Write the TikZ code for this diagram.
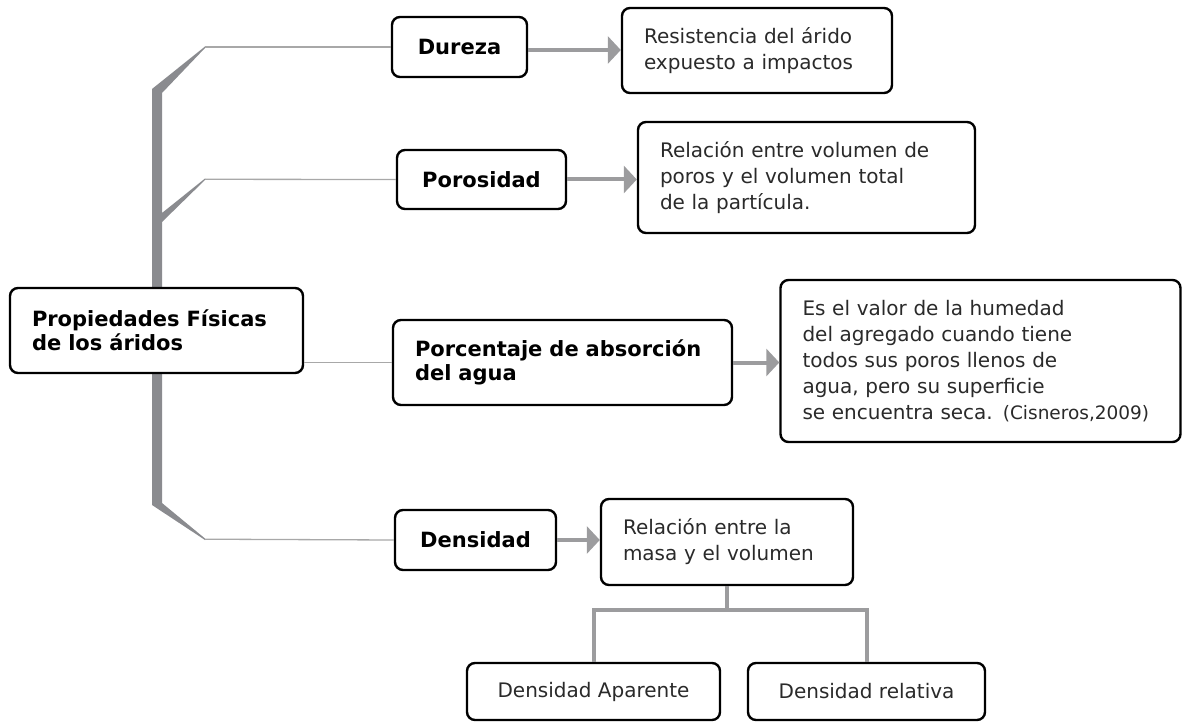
\documentclass[tikz,border=0pt]{standalone}
\usepackage{fontspec}
\setmainfont{DejaVu Sans}
\usetikzlibrary{arrows.meta}
\definecolor{trunkgray}{HTML}{8A8B8F}
\definecolor{linkgray}{HTML}{A8A8A8}
\definecolor{arrowgray}{HTML}{9C9C9E}
\definecolor{textgray}{HTML}{2A2A2A}
\tikzset{box/.style={draw=black, line width=2.4pt, rounded corners=8pt, fill=white,
           inner xsep=22pt, inner ysep=0pt, align=left, text=textgray,
           font=\fontsize{20}{26}\selectfont},
         title/.style={box, align=center, text=black,
           font=\fontsize{21}{24}\selectfont\bfseries},
         link/.style={linkgray, line width=1.3pt},
         feed/.style={arrowgray, line width=4pt, -{Triangle[width=27pt,length=13pt]}},
         split/.style={arrowgray, line width=4pt}}

\begin{document}
\begin{tikzpicture}[x=1pt,y=-1pt]
  \useasboundingbox (0,0) rectangle (1183,722);

  \fill[trunkgray] (205,46.5) -- (152,89) -- (152,505) -- (205,540) -- (205,538.5)
    -- (162,503) -- (162,222) -- (205,180) -- (205,178.5) -- (162,213)
    -- (162,93) -- (205,48) -- cycle;
  \coordinate (b1) at (205,47);
  \coordinate (b2) at (205,179.3);
  \coordinate (b4) at (205,539.2);

  \node[title, align=left, text width=249pt, minimum height=85pt] (main) at (156.5,330.5)
    {Propiedades Físicas\\de los áridos};
  \node[title, minimum width=135pt, minimum height=60pt] (dureza) at (459.5,47) {Dureza};
  \node[title, minimum width=169pt, minimum height=59pt] (poros) at (481.5,179.5) {Porosidad};
  \node[title, align=left, text width=295pt, minimum height=85pt] (absor) at (562.5,362.5)
    {Porcentaje de absorción\\del agua};
  \node[title, minimum width=161pt, minimum height=60pt] (dens) at (475.5,540) {Densidad};

  \node[box, text width=226pt, minimum height=85pt] (durtxt) at (757,50.5)
    {Resistencia del árido\\expuesto a impactos};
  \node[box, text width=293pt, minimum height=111pt] (portxt) at (806.5,177.5)
    {Relación entre volumen de\\poros y el volumen total\\de la partícula.};
  \node[box, text width=356pt, minimum height=162pt] (abstxt) at (980.5,361)
    {Es el valor de la humedad\\del agregado cuando tiene\\todos sus poros llenos de\\agua, pero su superficie\\se encuentra seca. {\fontsize{18.5}{26}\selectfont(Cisneros,2009)}};
  \node[box, text width=208pt, minimum height=86pt] (denstxt) at (727,542)
    {Relación entre la\\masa y el volumen};
  \node[box, align=center, minimum width=253pt, minimum height=57pt] (aparente) at (593.5,691.5)
    {Densidad Aparente};
  \node[box, align=center, minimum width=237pt, minimum height=57pt] (relativa) at (866.5,691.5)
    {Densidad relativa};

  \draw[link] (b1) -- (dureza.west);
  \draw[link] (b2) -- (poros.west);
  \draw[link] (main.east |- absor.west) -- (absor.west);
  \draw[link] (b4) -- (dens.west);

  \draw[feed] (dureza.east |- 0,50) -- (durtxt.west |- 0,50);
  \draw[feed] (poros.east) -- (poros.east -| portxt.west);
  \draw[feed] (absor.east) -- (absor.east -| abstxt.west);
  \draw[feed] (dens.east) -- (dens.east -| denstxt.west);

  \draw[split] (denstxt.south) -- ++(0,24) coordinate (fork);
  \draw[split] (aparente.north) |- (fork) -| (relativa.north);
\end{tikzpicture}
\end{document}
